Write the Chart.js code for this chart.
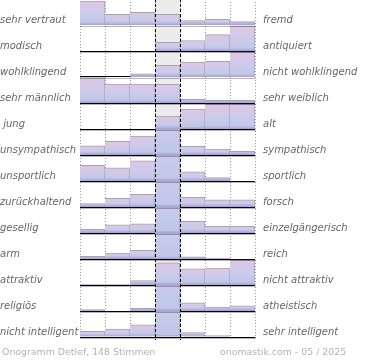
<!DOCTYPE html>
<html><head><meta charset="utf-8">
<script src="https://cdn.jsdelivr.net/npm/chart.js@4.4.1/dist/chart.umd.min.js"></script>
<style>
html,body{margin:0;padding:0;background:#fff;width:370px;height:360px;overflow:hidden;position:relative;}
#c{position:absolute;left:0;top:-1px;}
.foot{position:absolute;top:345px;font-family:"DejaVu Sans";font-size:9.4px;color:#b3b3b3;white-space:nowrap;line-height:14px;}
</style></head><body>
<canvas id="c" width="370" height="361"></canvas>
<div class="foot" style="left:2px">Onogramm Detlef, 148 Stimmen</div>
<div class="foot" style="left:220px">onomastik.com - 05 / 2025</div>
<script>
// scale points (7 columns)
const categories = ['1','2','3','4','5','6','7'];
const leftLabels = ['sehr vertraut','modisch','wohlklingend','sehr männlich',' jung','unsympathisch','unsportlich','zurückhaltend','gesellig','arm','attraktiv','religiös','nicht intelligent'];
const rightLabels = ['fremd','antiquiert','nicht wohlklingend','sehr weiblich','alt','sympathisch','sportlich','forsch','einzelgängerisch','reich','nicht attraktiv','atheistisch','sehr intelligent'];
// bar heights in % of row height (100 = fills the row, clipped)
const vertrautFremd      = [92, 41, 49, 41, 17, 22, 13];
const modischAntiquiert  = [0, 0, 0, 33, 40, 63, 97];
const wohlklingend       = [0, 0, 12, 45, 57, 60, 96];
const maennlichWeiblich  = [98, 73, 73, 72, 14, 10, 10];
const jungAlt            = [0, 0, 0, 50, 77, 96, 96];
const sympathisch        = [35, 53, 73, 100, 33, 23, 14];
const sportlich          = [60, 51, 78, 100, 35, 13, 0];
const zurueckForsch      = [13, 33, 49, 100, 37, 28, 28];
const geselligEinzel     = [14, 31, 35, 100, 45, 26, 26];
const armReich           = [10, 23, 33, 100, 8, 4, 0];
const attraktiv          = [2, 2, 17, 85, 62, 65, 96];
const religioesAtheist   = [5, 0, 10, 100, 31, 15, 20];
const intelligent        = [22, 30, 47, 100, 17, 5, 0];
const rows = [vertrautFremd, modischAntiquiert, wohlklingend, maennlichWeiblich, jungAlt, sympathisch, sportlich, zurueckForsch, geselligEinzel, armReich, attraktiv, religioesAtheist, intelligent];
const N = rows.length;

function barFill(ctx){
  const chart = ctx.chart, area = chart.chartArea;
  if (!area || ctx.type !== 'data' || !ctx.raw) return '#c6c8e8';
  const ys = chart.scales.y;
  const r = ctx.raw;
  const base = ys.getPixelForValue(r[0]);
  const top = ys.getPixelForValue(r[1]);
  const h = base - top;
  if (!(h > 0)) return '#c6c8e8';
  const clipped = (r[1] - r[0]) >= 0.999;
  const vh = clipped ? h * 2.4 : Math.max(h, 1);
  const g = chart.ctx.createLinearGradient(0, base - vh, 0, base);
  const dark = Math.max(0, 1 - 3 / vh);
  g.addColorStop(0, '#e0c6e5');
  g.addColorStop(Math.min(dark, 0.55), '#cacbea');
  g.addColorStop(dark, '#c0c7ea');
  g.addColorStop(1, '#a69fcc');
  return g;
}

const datasets = rows.map((vals, i) => {
  const base = N - 1 - i;
  return {
    data: vals.map(v => [base, base + v / 100]),
    grouped: false,
    barPercentage: 1,
    categoryPercentage: 1,
    backgroundColor: barFill,
    borderColor: '#a4a4ae',
    borderWidth: {top: 1, right: 1, bottom: 0, left: 0},
    borderSkipped: false
  };
});

const centerPlugin = {
  id: 'center',
  beforeDraw(chart){
    const x = chart.scales.x, a = chart.chartArea, c = chart.ctx;
    const w = (a.right - a.left) / categories.length;
    const cx = x.getPixelForValue(3);
    c.save(); c.fillStyle = '#ececec';
    c.fillRect(cx - w/2, a.top, w, a.bottom - a.top);
    c.restore();
  },
  afterDatasetsDraw(chart){
    const x = chart.scales.x, y = chart.scales.y, a = chart.chartArea, c = chart.ctx;
    const w = (a.right - a.left) / categories.length;
    const cx = x.getPixelForValue(3);
    c.save();
    // shadow under baselines
    c.strokeStyle = 'rgba(0,0,0,0.28)'; c.lineWidth = 1;
    for (let v = 0; v < N; v++){
      const py = Math.round(y.getPixelForValue(v)) + 1.5;
      c.beginPath(); c.moveTo(a.left, py); c.lineTo(a.right + 1, py); c.stroke();
    }
    // dashed borders of the center column
    c.strokeStyle = '#000'; c.lineWidth = 1; c.setLineDash([3, 2]);
    [cx - w/2, cx + w/2].forEach(px => {
      const p = Math.round(px) + 0.5;
      c.beginPath(); c.moveTo(p, a.top); c.lineTo(p, a.bottom + 3); c.stroke();
    });
    c.restore();
  }
};

const labelFont = {family: 'DejaVu Sans', style: 'italic', size: 10};
function noPad(s){ s.paddingTop = 0; s.paddingBottom = 0; }
const labelOffset = 0.16;

new Chart(document.getElementById('c'), {
  type: 'bar',
  data: {labels: categories, datasets},
  options: {
    responsive: false,
    animation: false,
    layout: {padding: 0},
    plugins: {legend: {display: false}, tooltip: {enabled: false}},
    scales: {
      x: {
        type: 'category',
        offset: true,
        ticks: {display: false},
        grid: {display: true, offset: true, color: '#9a9a9a', lineWidth: 1, drawTicks: true, tickLength: 3, tickColor: '#9a9a9a', tickBorderDash: [1, 2]},
        border: {display: false, dash: [1, 2]},
        afterFit(s){ s.height = 23; s.paddingLeft = 0; s.paddingRight = 0; }
      },
      y: {
        type: 'linear', min: 0, max: N, position: 'left', z: 1,
        ticks: {display: false, stepSize: 1},
        grid: {color: '#000', lineWidth: 1, drawTicks: false},
        border: {display: false},
        afterFit(s){ s.width = 0; noPad(s); }
      },
      yl: {
        type: 'linear', min: 0, max: N, position: 'left',
        grid: {display: false}, border: {display: false},
        afterBuildTicks(s){ s.ticks = leftLabels.map((_, i) => ({value: N - 1 - i + labelOffset})); },
        ticks: {autoSkip: false, crossAlign: 'far', padding: 0, color: '#666', font: labelFont,
          callback: (v, i) => leftLabels[i]},
        afterFit(s){ s.width = 80; noPad(s); }
      },
      yr: {
        type: 'linear', min: 0, max: N, position: 'right',
        grid: {display: false, drawTicks: false}, border: {display: false},
        afterBuildTicks(s){ s.ticks = rightLabels.map((_, i) => ({value: N - 1 - i + labelOffset})); },
        ticks: {autoSkip: false, crossAlign: 'near', padding: 8, color: '#666', font: labelFont,
          callback: (v, i) => rightLabels[i]},
        afterFit(s){ s.width = 115; noPad(s); }
      }
    }
  },
  plugins: [centerPlugin]
});
</script>
</body></html>
